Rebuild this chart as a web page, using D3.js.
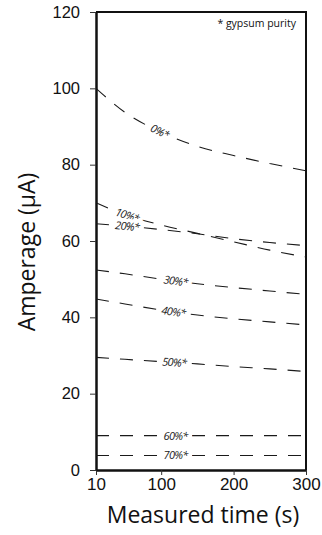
<!DOCTYPE html>
<html lang="en">
<head>
  <meta charset="UTF-8">
  <title>Amperage vs measured time</title>
  <style>
    body { margin: 0; background: #fff; }
    svg { display: block; font-family: "Open Sans", "Noto Sans", sans-serif; }
  </style>
</head>
<body>
  <div id="chart"></div>

  <script src="https://d3js.org/d3.v7.min.js"></script>
  <script>

    // measured times (s)
    const times = [10, 50, 100, 150, 200, 250, 300];

    const seriesNames = ["0%*", "10%*", "20%*", "30%*", "40%*", "50%*", "60%*", "70%*"];

    // amperage (µA) at each time
    const p0  = [100, 93.7, 88.5, 84.8, 82.4, 80.3, 78.4];
    const p10 = [70, 66.9, 64.2, 62.0, 59.8, 57.6, 55.8];
    const p20 = [64.5, 63.9, 63.0, 61.9, 60.6, 59.6, 58.8];
    const p30 = [52.4, 51.4, 50.0, 48.8, 47.8, 46.9, 46.0];
    const p40 = [44.8, 43.5, 41.9, 40.6, 39.6, 38.8, 38.0];
    const p50 = [29.5, 29.0, 28.4, 27.8, 27.1, 26.5, 25.8];
    const p60 = [9, 9, 9, 9, 9, 9, 9];
    const p70 = [3.8, 3.8, 3.8, 3.8, 3.8, 3.8, 3.8];

    // time at which each label sits on its line
    const labelTimes = [98, 53, 53, 120, 117, 118, 120, 120];

    const xTicks = [10, 100, 200, 300];
    const yTicks = [0, 20, 40, 60, 80, 100, 120];

    const width = 322,
          height = 535,
          margin = {top: 12, right: 16, bottom: 65, left: 96};

    const svg = d3.select("#chart")
      .append("svg")
      .attr("width", width)
      .attr("height", height);

    let x = d3.scaleLinear([10, 300], [margin.left, width - margin.right]);
    let y = d3.scaleLinear([0, 120], [height - margin.bottom, margin.top]);

    const allSeries = [p0, p10, p20, p30, p40, p50, p60, p70];

    // frame (top + right)
    svg.append("path")
      .attr("d", `M${x(10)},${y(120)}H${x(300)}V${y(0)}`)
      .attr("fill", "none")
      .attr("stroke", "#111")
      .attr("stroke-width", 2);

    // x axis
    const xAxis = svg.append("g")
      .attr("transform", `translate(0,${y(0)})`)
      .call(d3.axisBottom(x).tickValues(xTicks).tickSize(5).tickPadding(3).tickSizeOuter(0));
    xAxis.select(".domain").attr("stroke-width", 2.5).attr("stroke", "#111");
    xAxis.selectAll(".tick line").attr("stroke", "#333");
    xAxis.selectAll("text").style("font-size", "17px").attr("fill", "#111");

    // y axis
    const yAxis = svg.append("g")
      .attr("transform", `translate(${x(10)},0)`)
      .call(d3.axisLeft(y).tickValues(yTicks).tickSize(6).tickPadding(10).tickSizeOuter(0));
    yAxis.select(".domain").attr("stroke-width", 2.5).attr("stroke", "#111");
    yAxis.selectAll(".tick line").attr("stroke", "#333");
    yAxis.selectAll("text").style("font-size", "16.5px").attr("fill", "#111");

    // dashed lines
    const line = d3.line()
      .x((d, i) => x(times[i]))
      .y(d => y(d))
      .curve(d3.curveMonotoneX);

    svg.append("g")
      .selectAll("path")
      .data(allSeries)
      .join("path")
      .attr("d", d => line(d))
      .attr("fill", "none")
      .attr("stroke", "#1a1a1a")
      .attr("stroke-width", 1.1)
      .attr("stroke-dasharray", "13,11");

    // labels on the lines
    const valueAt = (s, t) => {
      const k = d3.bisectRight(times, t) - 1;
      const f = (t - times[k]) / (times[k + 1] - times[k]);
      return s[k] + f * (s[k + 1] - s[k]);
    };

    svg.append("g")
      .selectAll("text")
      .data(seriesNames)
      .join("text")
      .attr("transform", (d, i) => {
        const t = labelTimes[i];
        const s = allSeries[i];
        const px = x(t), py = y(valueAt(s, t));
        const dy = y(valueAt(s, t + 10)) - y(valueAt(s, t - 10));
        const dx = x(t + 10) - x(t - 10);
        const ang = Math.atan2(dy, dx) * 180 / Math.PI;
        return `translate(${px},${py}) rotate(${ang})`;
      })
      .attr("text-anchor", "middle")
      .attr("dy", "0.35em")
      .style("font-size", "11px")
      .style("font-style", "italic")
      .style("letter-spacing", "-0.7px")
      .attr("fill", "#222")
      .attr("stroke", "#fff")
      .attr("stroke-width", 7)
      .attr("paint-order", "stroke")
      .text(d => d);

    // note
    svg.append("text")
      .attr("x", x(300) - 10)
      .attr("y", 27)
      .attr("text-anchor", "end")
      .style("font-size", "10.5px")
      .attr("fill", "#111")
      .text("* gypsum purity");

    // axis titles
    svg.append("text")
      .attr("x", 203)
      .attr("y", 523)
      .attr("text-anchor", "middle")
      .style("font-size", "23px")
      .attr("fill", "#111")
      .text("Measured time (s)");

    svg.append("text")
      .attr("transform", `translate(35,${252}) rotate(-90)`)
      .attr("text-anchor", "middle")
      .style("font-size", "23px")
      .attr("fill", "#111")
      .text("Amperage (μA)");

  </script>
</body>
</html>
